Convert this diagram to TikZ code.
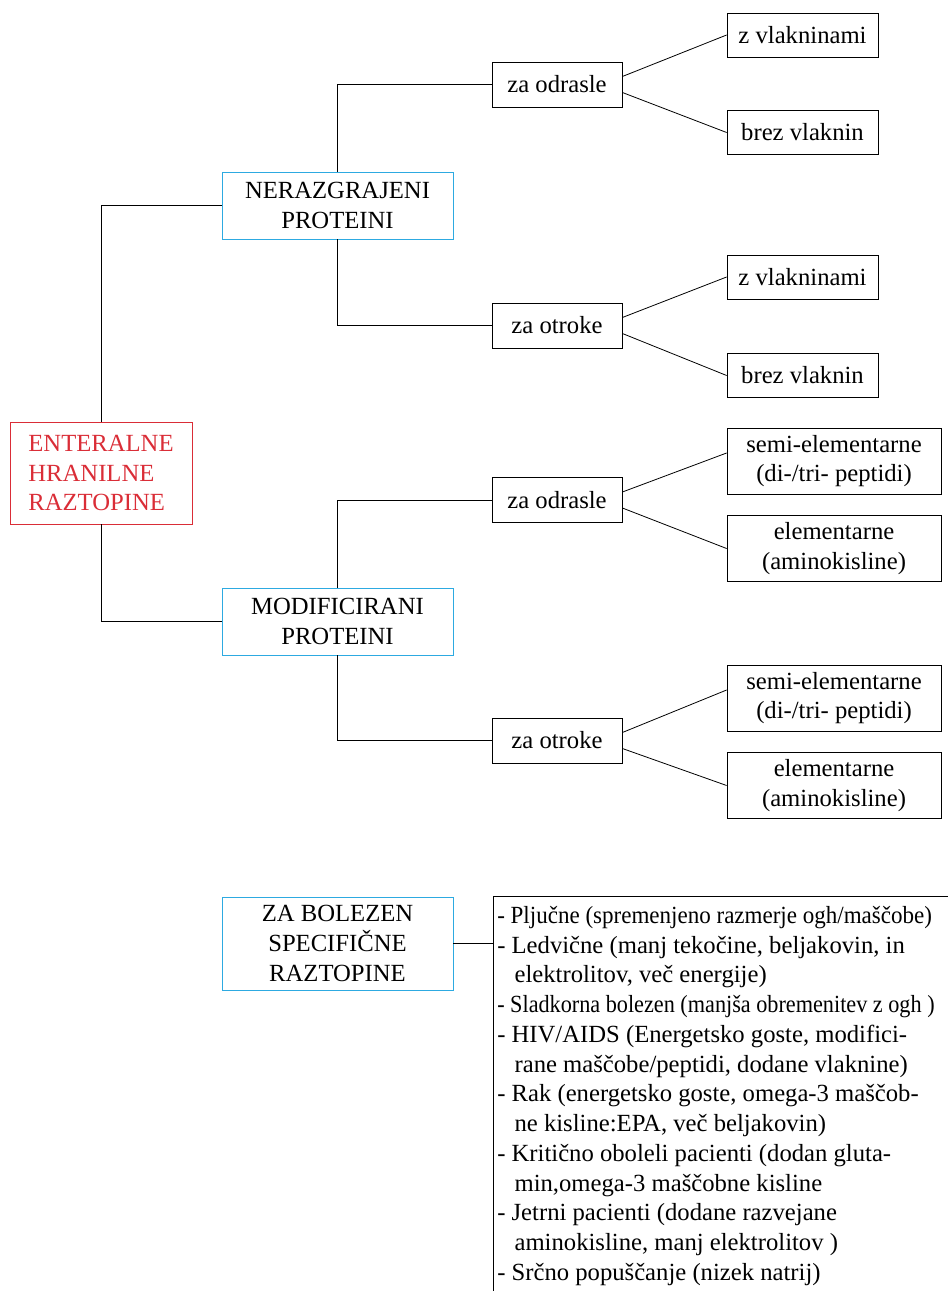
\documentclass[tikz,border=0pt]{standalone}
\usepackage{fontspec}
\setmainfont{Liberation Serif}
\usepackage{graphicx}

\definecolor{rootred}{RGB}{218,45,55}
\definecolor{groupblue}{RGB}{45,170,225}

\tikzset{
  box/.style={draw, line width=0.6pt, inner sep=0pt, align=center},
  rootbox/.style={box, draw=rootred, text=rootred, align=left, minimum width=136.5pt, minimum height=76.5pt},
  groupbox/.style={box, draw=groupblue, minimum width=173.25pt, minimum height=50.25pt},
  agebox/.style={box, minimum width=97.5pt, minimum height=33.75pt},
  leafbox/.style={box, minimum width=113.25pt, minimum height=33pt},
  wideleaf/.style={box, minimum width=160.5pt, minimum height=49.5pt},
  link/.style={line width=0.6pt},
}

\begin{document}
\begin{tikzpicture}[x=0.75pt, y=-0.75pt, font=\fontsize{18.5}{22.3}\selectfont]
  \useasboundingbox (0,0) rectangle (948,1291);

  % root and the three groups
  \node [rootbox] (root) at (101,473) {ENTERALNE\\HRANILNE\\RAZTOPINE};
  \node [groupbox] (ner) at (337.5,205.5) {NERAZGRAJENI\\PROTEINI};
  \node [groupbox] (mod) at (337.5,621.5) {MODIFICIRANI\\PROTEINI};
  \node [groupbox, minimum height=69.75pt] (bol) at (337.5,943.5) {ZA BOLEZEN\\SPECIFIČNE\\RAZTOPINE};

  % age boxes
  \node [agebox] (nerodr) at (557,84.5) {za odrasle};
  \node [agebox] (nerotr) at (557,325.5) {za otroke};
  \node [agebox] (mododr) at (557,500) {za odrasle};
  \node [agebox] (modotr) at (557,740.5) {za otroke};

  % leaves
  \node [leafbox] (nerodrz) at (802.5,35) {z vlakninami};
  \node [leafbox] (nerodrb) at (802.5,132.5) {brez vlaknin};
  \node [leafbox] (nerotrz) at (802.5,277) {z vlakninami};
  \node [leafbox] (nerotrb) at (802.5,375.5) {brez vlaknin};
  \node [wideleaf] (mododrs) at (834,461) {semi-elementarne\\(di-/tri- peptidi)};
  \node [wideleaf] (mododre) at (834,548.5) {elementarne\\(aminokisline)};
  \node [wideleaf] (modotrs) at (834,698) {semi-elementarne\\(di-/tri- peptidi)};
  \node [wideleaf] (modotre) at (834,785.5) {elementarne\\(aminokisline)};

  % list of diseases
  \coordinate (listcorner) at (493,896);
  \coordinate (listright) at (948,896);
  \coordinate (listend) at (493,1291);
  \node [anchor=north west, align=left, inner sep=0pt] (list) at (497,906) {%
    \resizebox{326pt}{\height}{- Pljučne (spremenjeno razmerje ogh/maščobe)}\\
    - Ledvične (manj tekočine, beljakovin, in\\
    \hspace*{13pt}elektrolitov, več energije)\\
    \resizebox{328pt}{\height}{- Sladkorna bolezen (manjša obremenitev z ogh )}\\
    - HIV/AIDS (Energetsko goste, modifici-\\
    \hspace*{13pt}rane maščobe/peptidi, dodane vlaknine)\\
    - Rak (energetsko goste, omega-3 maščob-\\
    \hspace*{13pt}ne kisline:EPA, več beljakovin)\\
    - Kritično oboleli pacienti (dodan gluta-\\
    \hspace*{13pt}min,omega-3 maščobne kisline\\
    - Jetrni pacienti (dodane razvejane\\
    \hspace*{13pt}aminokisline, manj elektrolitov )\\
    - Srčno popuščanje (nizek natrij)};

  % connectors
  \draw [link] (root.north) |- (ner.west);
  \draw [link] (root.south) |- (mod.west);
  \draw [link] (ner.north) |- (nerodr.west);
  \draw [link] (ner.south) |- (nerotr.west);
  \draw [link] (mod.north) |- (mododr.west);
  \draw [link] (mod.south) |- (modotr.west);

  \draw [link] ([yshift=6pt]nerodr.east) -- (nerodrz.west);
  \draw [link] ([yshift=-6pt]nerodr.east) -- (nerodrb.west);
  \draw [link] ([yshift=6pt]nerotr.east) -- (nerotrz.west);
  \draw [link] ([yshift=-6pt]nerotr.east) -- (nerotrb.west);
  \draw [link] ([yshift=6pt]mododr.east) -- ([yshift=6pt]mododrs.west);
  \draw [link] ([yshift=-6pt]mododr.east) -- (mododre.west);
  \draw [link] ([yshift=6pt]modotr.east) -- ([yshift=6pt]modotrs.west);
  \draw [link] ([yshift=-6pt]modotr.east) -- (modotre.west);

  \draw [link] (listright) -- (listcorner) -- (listend);
  \draw [link] (bol.east) -- (bol.east -| listcorner);
\end{tikzpicture}
\end{document}
